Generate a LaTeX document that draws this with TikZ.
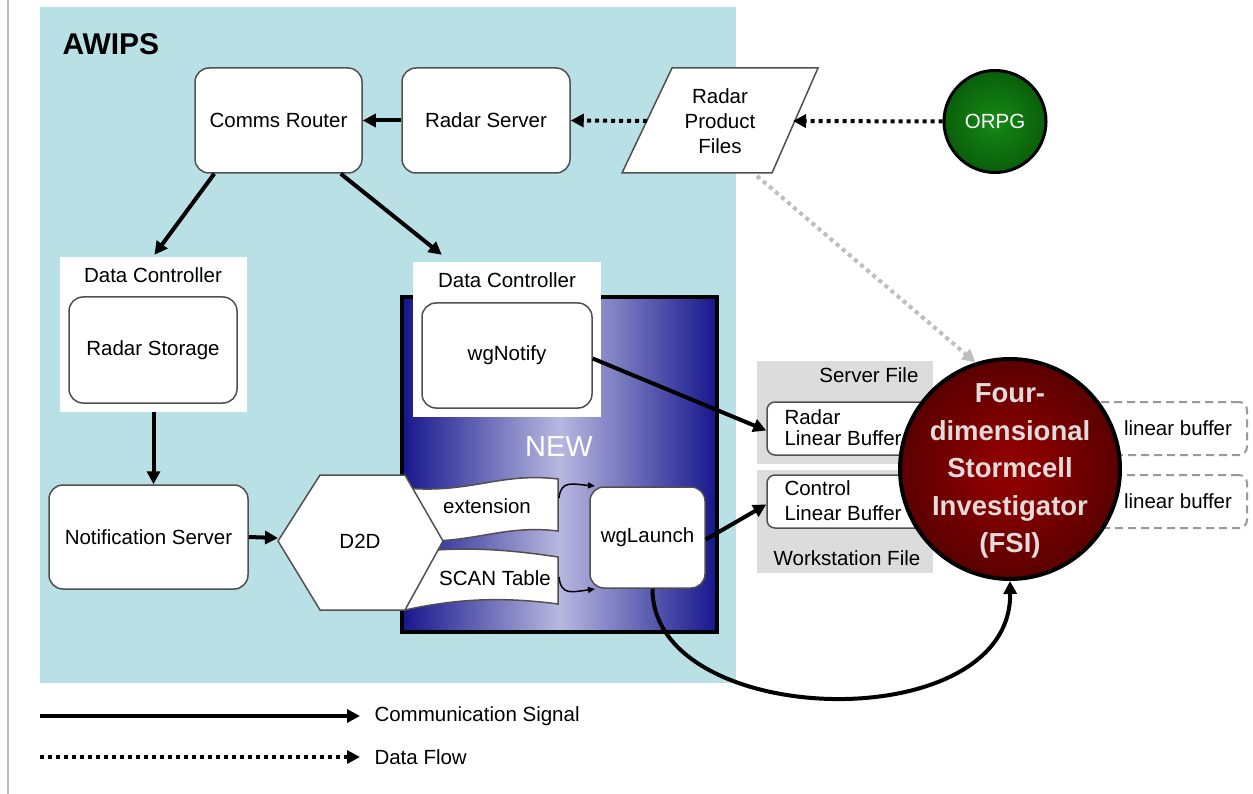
\documentclass[tikz,border=0pt]{standalone}
\usepackage{fontspec}
\setmainfont{Liberation Sans}
\usetikzlibrary{arrows.meta,calc}
\definecolor{awips}{RGB}{185,224,228}
\definecolor{navyb}{RGB}{22,22,140}
\definecolor{lavb}{RGB}{184,184,224}
\definecolor{panel}{RGB}{220,220,220}
\definecolor{boxedge}{RGB}{80,80,80}
\definecolor{fsitext}{RGB}{228,218,218}
\definecolor{greyflowc}{RGB}{190,190,190}
\pgfdeclareradialshading{fsishade}{\pgfpointorigin}{rgb(0bp)=(0.56,0,0); rgb(6bp)=(0.54,0,0); rgb(50bp)=(0.11,0,0)}
\pgfdeclareradialshading{orpgshade}{\pgfpointorigin}{rgb(0bp)=(0.12,0.56,0.12); rgb(6bp)=(0.07,0.5,0.07); rgb(50bp)=(0,0.2,0)}
\tikzset{
  box/.style={draw=boxedge, line width=1.5pt, fill=white, rounded corners=14pt, align=center, inner sep=0pt},
  bufbox/.style={draw=boxedge, line width=1.5pt, fill=white, rounded corners=8pt, inner sep=0pt},
  dashbuf/.style={draw=black!40, line width=2pt, dash pattern=on 8pt off 5pt, rounded corners=8pt, inner sep=0pt},
  boxline/.style={draw=boxedge, line width=1.5pt},
  sig/.style={line width=4pt, -{Triangle[length=13pt,width=13pt]}},
  flow/.style={line width=4pt, dash pattern=on 4pt off 4pt, -{Triangle[length=13pt,width=13pt]}},
  greyflow/.style={draw=greyflowc, line width=4pt, dash pattern=on 4pt off 4pt, -{Triangle[length=13pt,width=13pt,fill=greyflowc]}},
  curly/.style={line width=1.5pt, -{Triangle[length=7pt,width=6pt]}},
  panelbox/.style={fill=panel, inner sep=0pt},
  whitebox/.style={fill=white, inner sep=0pt}
}
\begin{document}
\begin{tikzpicture}[x=1pt, y=-1pt, font=\fontsize{20.5}{24}\selectfont]
\useasboundingbox (0,0) rectangle (1253,794);
\fill[white] (0,0) rectangle (1253,794);
\draw[line width=2pt, draw=black!25] (8,0) -- (8,794);
% AWIPS area
\fill[awips] (40,7) rectangle (736,683);
\node[anchor=west, font=\bfseries\fontsize{30}{32}\selectfont] (awipsl) at (59,44) {AWIPS};
% NEW box
\node[draw=black, line width=4pt, minimum width=315pt, minimum height=335pt, inner sep=0pt,
      left color=navyb, right color=navyb, middle color=lavb] (newbox) at (559.5,464.5) {};
\node[text=white, font=\fontsize{29}{32}\selectfont] (newl) at (559,447) {NEW};
% Data controllers
\node[whitebox, minimum width=187pt, minimum height=155pt] (dc1) at (153.5,334.5) {};
\node (dc1l) at (153,275) {Data Controller};
\node[box, minimum width=168pt, minimum height=106pt] (rstore) at (153,350) {Radar Storage};
\node[whitebox, minimum width=188pt, minimum height=155pt] (dc2) at (507,339.5) {};
\node (dc2l) at (507,280) {Data Controller};
\node[box, minimum width=170pt, minimum height=105pt] (wgn) at (507,355.5) {wgNotify};
% top row
\node[box, minimum width=167pt, minimum height=105pt] (comms) at (278.5,120.5) {Comms Router};
\node[box, minimum width=168pt, minimum height=105pt] (rserver) at (486,120.5) {Radar Server};
\draw[boxline, fill=white] (672,68) -- (818,68) -- (772,173) -- (622,173) -- cycle;
\node[align=center, font=\fontsize{20.5}{25}\selectfont] (rpf) at (720,121) {Radar\\Product\\Files};
\coordinate (rpfL) at (647,121);
\coordinate (rpfR) at (793,121);
\coordinate (rpfB) at (757,176);
\node[circle, draw=black, line width=3pt, shading=orpgshade, minimum size=102pt, inner sep=0pt, text=white] (orpg) at (995,121.5) {ORPG};
% Notification server
\node[box, minimum width=199pt, minimum height=104pt] (notif) at (148.5,537) {Notification Server};
% tapes
\draw[boxline, fill=white] (405,488) .. controls (470,494) and (500,472) .. (558,479) -- (558,531) .. controls (500,524) and (470,546) .. (405,540) -- cycle;
\draw[boxline, fill=white] (405,553) .. controls (460,546) and (505,549) .. (558,557) -- (558,604) .. controls (505,597) and (460,598) .. (405,610) -- cycle;
\node (ext) at (487,506) {extension};
\node (scan) at (495,578) {SCAN Table};
\coordinate (extR) at (559,498);
\coordinate (scanR) at (559,577);
% D2D hexagon
\draw[boxline, fill=white] (278,541) -- (320,475) -- (405,475) -- (443,541) -- (405,610) -- (320,610) -- cycle;
\node (d2d) at (360,541) {D2D};
\coordinate (d2dL) at (278,538);
% wgLaunch
\node[box, minimum width=115pt, minimum height=101pt] (wgl) at (647.5,537.5) {wgLaunch};
\coordinate (wglA) at (595,486);
\coordinate (wglB) at (595,589);
% File panels
\node[panelbox, minimum width=176pt, minimum height=103pt] (sfile) at (845,412.5) {};
\node[anchor=east] (sfilel) at (922,375) {Server File};
\node[panelbox, minimum width=176pt, minimum height=103pt] (wfile) at (845,521.5) {};
\node (wfilel) at (847,558) {Workstation File};
\node[bufbox, minimum width=163pt, minimum height=53pt] (rlb) at (848.5,428.5) {};
\node[anchor=west, align=left, font=\fontsize{20.5}{21.5}\selectfont] (rlbl) at (781,427.5) {Radar\\Linear Buffer};
\node[bufbox, minimum width=163pt, minimum height=53pt] (clb) at (848.5,501.5) {};
\node[anchor=west, align=left, font=\fontsize{20.5}{24.5}\selectfont] (clbl) at (781,500.5) {Control\\Linear Buffer};
% dashed linear buffers
\node[dashbuf, minimum width=190pt, minimum height=53pt] (lb1) at (1152,428.5) {};
\node (lb1l) at (1178,428) {linear buffer};
\node[dashbuf, minimum width=190pt, minimum height=53pt] (lb2) at (1152,501.5) {};
\node (lb2l) at (1178,501) {linear buffer};
% FSI
\node[circle, draw=black, line width=4pt, shading=fsishade, minimum size=220pt, inner sep=0pt] (fsi) at (1010,469) {};
\node[text=fsitext, align=center, font=\bfseries\fontsize{27.5}{37.5}\selectfont] (fsit) at (1010,471) {Four-\\dimensional\\Stormcell\\Investigator\\(FSI)};
% connectors
\draw[flow] (orpg.west) -- (rpfR);
\draw[flow] (rpfL) -- (rserver.east);
\draw[sig] (rserver.west) -- (comms.east);
\draw[sig] ($(comms.south west)+(20,0)$) -- ($(dc1.north)+(1,-2)$);
\draw[sig] ($(comms.south east)+(-22,0)$) -- ($(dc2.north west)+(29,-7)$);
\draw[sig] (dc1.south) -- (dc1.south |- notif.north);
\draw[sig] (notif.east) -- (d2dL);
\draw[curly] (extR) .. controls (561,480) and (572,484) .. (wglA);
\draw[curly] (scanR) .. controls (561,596) and (572,592) .. (wglB);
\draw[sig] ($(wgn.east)+(0,3)$) -- ($(rlb.west)+(0,2)$);
\draw[sig] ($(wgl.east)+(0,2)$) -- ($(clb.west)+(0,3)$);
\draw[sig] ($(wgl.south)+(5,0)$) .. controls (652,730) and (1012,740) .. (fsi.south);
\draw[greyflow] (rpfB) -- (fsi.108);
% legend
\coordinate (lg1a) at (40,716);
\coordinate (lg1b) at (360,716);
\coordinate (lg2a) at (40,757);
\coordinate (lg2b) at (360,757);
\draw[sig] (lg1a) -- (lg1b);
\draw[flow] (lg2a) -- (lg2b);
\node[anchor=west] (lg1l) at (371,716) {Communication Signal};
\node[anchor=west] (lg2l) at (371,757) {Data Flow};
\end{tikzpicture}
\end{document}
